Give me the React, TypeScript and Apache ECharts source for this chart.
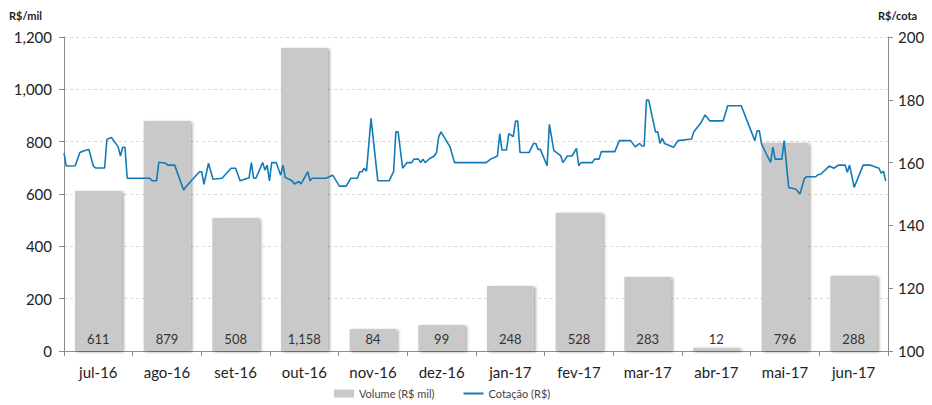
import React, { useEffect, useRef } from "react";
import * as echarts from "echarts";

const months = ["jul-16", "ago-16", "set-16", "out-16", "nov-16", "dez-16", "jan-17", "fev-17", "mar-17", "abr-17", "mai-17", "jun-17"];
const volume = [611, 879, 508, 1158, 84, 99, 248, 528, 283, 12, 796, 288];

// days since 2016-07-01 and share price (R$)
const priceDays = [
  0, 1, 5, 7, 9, 11, 13, 14, 18, 19, 21, 24, 25, 26, 27, 28, 38, 39, 41, 42,
  45, 46, 49, 53, 54, 60, 61, 62, 64, 66, 70, 74, 76, 78, 82, 83, 84, 85, 88, 89,
  90, 91, 92, 94, 96, 97, 98, 101, 102, 104, 105, 108, 109, 110, 116, 119, 122, 125, 127, 130,
  131, 132, 133, 134, 136, 139, 144, 146, 147, 148, 150, 152, 154, 155, 157, 158, 159, 160, 162, 164,
  165, 166, 167, 171, 173, 187, 189, 192, 193, 194, 196, 197, 199, 200, 201, 202, 206, 208, 209, 210,
  211, 214, 215, 217, 220, 221, 223, 225, 227, 228, 229, 234, 235, 237, 238, 244, 246, 251, 253, 255,
  256, 257, 258, 259, 262, 263, 264, 265, 266, 270, 272, 278, 279, 282, 284, 286, 292, 294, 300, 302,
  306, 307, 308, 309, 311, 313, 314, 315, 318, 319, 321, 324, 325, 326, 328, 329, 333, 334, 335, 339,
  341, 343, 346, 347, 348, 350, 354, 357, 361, 362, 363, 364,
];
const priceValues = [
  163.0, 158.9, 159.0, 163.2, 163.8, 164.2, 158.9, 158.3, 158.3, 167.4, 168.0, 165.0, 162.1, 164.9, 164.9, 155.0, 155.0, 154.2, 154.2, 160.1,
  159.8, 159.2, 159.2, 151.3, 152.3, 157.1, 157.1, 153.1, 159.8, 154.7, 155.0, 158.2, 158.2, 154.2, 155.2, 160.0, 155.0, 155.0, 160.0, 157.6,
  159.2, 154.2, 160.0, 160.0, 156.0, 159.2, 155.3, 154.2, 153.2, 154.0, 153.2, 157.1, 154.2, 155.0, 155.0, 156.0, 152.5, 152.5, 155.0, 155.0,
  157.1, 157.1, 158.2, 157.3, 174.1, 154.2, 154.2, 157.1, 169.8, 169.8, 158.2, 160.0, 160.0, 161.1, 161.1, 160.0, 161.1, 160.0, 161.3, 162.1,
  163.2, 168.3, 169.8, 165.0, 160.0, 160.0, 161.1, 162.1, 169.2, 164.0, 164.0, 169.2, 168.3, 173.2, 173.2, 163.2, 163.2, 166.1, 166.1, 164.2,
  164.2, 159.0, 172.2, 163.8, 162.2, 160.0, 162.1, 162.1, 164.5, 159.0, 160.0, 160.0, 161.1, 161.1, 163.5, 163.5, 167.0, 167.0, 165.0, 166.1,
  165.3, 165.3, 179.9, 179.9, 169.8, 169.8, 166.1, 167.7, 166.1, 164.9, 167.0, 167.5, 169.8, 172.5, 175.2, 173.3, 173.3, 178.1, 178.1, 174.4,
  167.0, 170.1, 170.1, 165.9, 162.9, 160.1, 164.9, 161.1, 161.1, 167.0, 152.1, 151.6, 150.9, 150.0, 155.0, 155.5, 155.5, 156.2, 156.2, 158.9,
  158.2, 159.2, 159.2, 156.9, 159.2, 152.1, 159.2, 159.2, 158.2, 156.6, 157.3, 154.1,
];

const leftTicks = { min: 0, max: 1200, interval: 200 };
const rightTicks = { min: 100, max: 200, interval: 20 };

const FONT = "Lato, 'Liberation Sans', sans-serif";
const DAY = 86400000;
const START = new Date(2016, 6, 1).getTime();
const END = new Date(2017, 6, 1).getTime();
const LINE_COLOR = "#127bb5";

export default function App() {
  const ref = useRef<HTMLDivElement>(null);
  useEffect(() => {
    if (!ref.current) return;
    const chart = echarts.init(ref.current, undefined, { renderer: "svg" });
    const lineData = priceDays.map((d, i) => [START + d * DAY, priceValues[i]]);
    chart.setOption({
      animation: false,
      backgroundColor: "#ffffff",
      textStyle: { fontFamily: FONT },
      grid: { left: 64, right: 44, top: 37, bottom: 54, containLabel: false },
      graphic: [
        { type: "text", left: 9, top: 10, style: { text: "R$/mil", font: `bold 11px ${FONT}`, fill: "#222" } },
        { type: "text", left: 878, top: 10, style: { text: "R$/cota", font: `bold 11px ${FONT}`, fill: "#222" } },
      ],
      legend: {
        bottom: 1,
        left: 329,
        itemWidth: 20,
        itemHeight: 8,
        itemGap: 28,
        textStyle: { fontFamily: FONT, fontSize: 11, color: "#444" },
        data: [
          { name: "Volume (R$ mil)", icon: "rect" },
          { name: "Cotação (R$)", itemStyle: { color: "rgba(0,0,0,0)", borderWidth: 0, opacity: 0 } },
        ],
      },
      xAxis: [
        {
          type: "category",
          data: months,
          axisLine: { lineStyle: { color: "#8c8c8c" } },
          axisTick: { show: true, length: 5, lineStyle: { color: "#8c8c8c" } },
          axisLabel: { fontFamily: FONT, fontSize: 15, color: "#222", margin: 13 },
          splitLine: { show: false },
        },
        {
          type: "time",
          min: START,
          max: END,
          show: false,
          splitLine: { show: false },
        },
      ],
      yAxis: [
        {
          type: "value",
          min: leftTicks.min,
          max: leftTicks.max,
          interval: leftTicks.interval,
          axisLine: { show: true, lineStyle: { color: "#8c8c8c" } },
          axisTick: { show: true, length: 5, lineStyle: { color: "#8c8c8c" } },
          axisLabel: {
            fontFamily: FONT,
            fontSize: 15,
            color: "#222",
            margin: 12,
            formatter: (v: number) => v.toLocaleString("en-US"),
          },
          splitLine: { show: true, lineStyle: { color: "#d9d9d9", type: [3, 3] } },
        },
        {
          type: "value",
          position: "right",
          min: rightTicks.min,
          max: rightTicks.max,
          interval: rightTicks.interval,
          axisLine: { show: true, lineStyle: { color: "#8c8c8c" } },
          axisTick: { show: true, length: 5, lineStyle: { color: "#8c8c8c" } },
          axisLabel: { fontFamily: FONT, fontSize: 15, color: "#222", margin: 10 },
          splitLine: { show: false },
        },
      ],
      series: [
        {
          name: "Volume (R$ mil)",
          type: "bar",
          xAxisIndex: 0,
          yAxisIndex: 0,
          data: volume,
          barWidth: "68%",
          itemStyle: {
            color: "#c9c9c9",
            shadowColor: "rgba(0,0,0,0.35)",
            shadowBlur: 3,
            shadowOffsetX: 2,
            shadowOffsetY: 1,
          },
          label: {
            show: true,
            position: "insideBottom",
            distance: 6,
            fontFamily: FONT,
            fontSize: 13,
            color: "#333",
            formatter: (p: any) => Number(p.value).toLocaleString("en-US"),
          },
          z: 1,
        },
        {
          name: "Cotação (R$)",
          type: "line",
          xAxisIndex: 1,
          yAxisIndex: 1,
          data: lineData,
          symbol: "none",
          showSymbol: false,
          itemStyle: { color: LINE_COLOR },
          lineStyle: { color: LINE_COLOR, width: 1.6 },
          z: 3,
        },
      ],
    });
    return () => chart.dispose();
  }, []);
  return <div ref={ref} style={{ width: 932, height: 405, position: "absolute", left: 0, top: 0 }} />;
}
